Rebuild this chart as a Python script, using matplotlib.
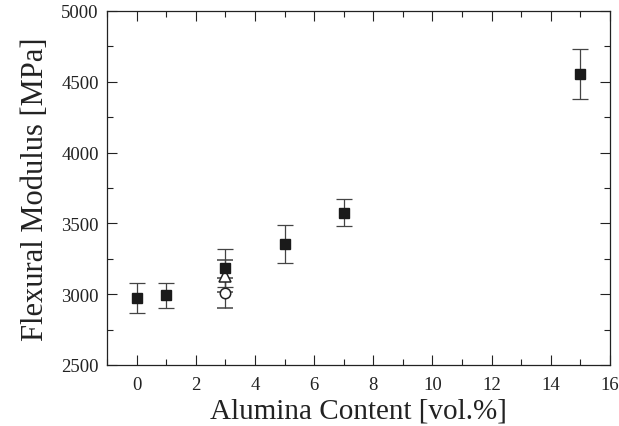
import numpy as np
import matplotlib
matplotlib.use("Agg")
from matplotlib import pyplot as plt
from matplotlib.ticker import MultipleLocator

# filled squares
sq_x = [0, 1, 3, 5, 7, 15]
sq_y = [2975, 2992, 3185, 3352, 3576, 4557]
sq_err = [105, 90, 134, 135, 96, 178]

# open triangle and circle at 3 vol.%
tri_x = [3]
tri_y = [3130]
tri_err = [115]
circ_x = [3]
circ_y = [3008]
circ_err = [103]

plt.rcParams['font.family'] = ['Liberation Serif', 'DejaVu Serif']

fig = plt.figure(figsize=(6.19, 4.27), dpi=100)
ax = fig.add_axes([107 / 619, 1 - 366 / 427, 503 / 619, 354 / 427])

ebkw = dict(ecolor='#444444', elinewidth=0.9, capsize=6, capthick=0.9, linestyle='none')
ax.errorbar(circ_x, circ_y, yerr=circ_err, marker='o', ms=7.5, mfc='white', mec='#222222',
            mew=1.1, **ebkw)
ax.errorbar(tri_x, tri_y, yerr=tri_err, marker='^', ms=8.5, mfc='white', mec='#222222',
            mew=1.1, **ebkw)
ax.errorbar(sq_x, sq_y, yerr=sq_err, marker='s', ms=7.3, mfc='#1a1a1a', mec='#1a1a1a',
            **ebkw)

ax.set_xlim(-1, 16)
ax.set_ylim(2500, 5000)
ax.xaxis.set_major_locator(MultipleLocator(2))
ax.xaxis.set_minor_locator(MultipleLocator(1))
ax.yaxis.set_major_locator(MultipleLocator(500))
ax.yaxis.set_minor_locator(MultipleLocator(250))
ax.tick_params(which='both', direction='in', top=True, right=True, labelsize=13.5,
               color='#222222', width=0.8, labelcolor='#222222')
ax.tick_params(which='major', length=7)
ax.tick_params(axis='y', which='major', pad=6)
ax.tick_params(axis='x', which='major', pad=8)
ax.tick_params(which='minor', length=4)
for s in ax.spines.values():
    s.set_linewidth(0.9)
    s.set_color('#222222')

ax.set_xlabel('Alumina Content [vol.%]', fontsize=21, labelpad=3, color='#222222')
ax.set_ylabel('Flexural Modulus [MPa]', fontsize=22, labelpad=8, color='#222222')

fig.savefig('out.png', dpi=100)
